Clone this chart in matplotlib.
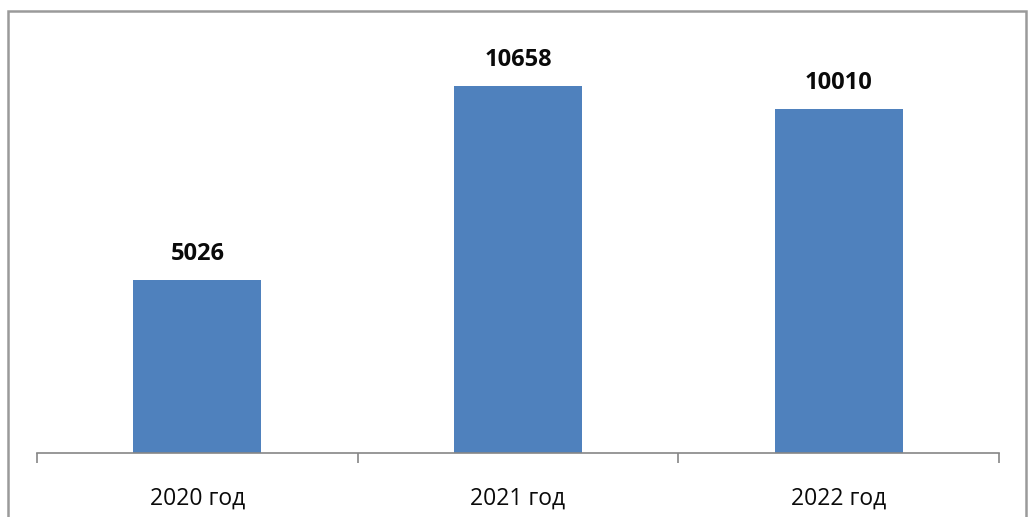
import matplotlib.pyplot as plt
from matplotlib.patches import Rectangle

years = ["2020 год", "2021 год", "2022 год"]
values = [5026, 10658, 10010]

plt.rcParams['font.family'] = ['Open Sans', 'DejaVu Sans']

fig = plt.figure(figsize=(10.28, 5.17), dpi=100)
ax = fig.add_axes([0.036, 0.1238, 0.9358, 0.7988])

x = range(len(years))
bars = ax.bar(x, values, width=0.40, color="#4F81BD")
for b, v in zip(bars, values):
    ax.annotate(str(v), (b.get_x() + b.get_width() / 2, v), xytext=(0, 10),
                textcoords="offset points", ha="center", va="bottom",
                fontsize=17, fontweight="bold", color="#0a0a0a")

ax.set_xlim(-0.5, len(years) - 0.5)
ax.set_ylim(0, 12000)
ax.set_xticks(list(x))
ax.set_xticklabels(years, fontsize=16.5, color="#0a0a0a")
ax.tick_params(axis="x", which="major", length=0, pad=24)
ax.set_xticks([i - 0.5 for i in range(len(years) + 1)], minor=True)
ax.tick_params(axis="x", which="minor", length=7, width=1.2, color="#868686")
ax.set_yticks([])
for s in ["top", "right", "left"]:
    ax.spines[s].set_visible(False)
ax.spines["bottom"].set_color("#868686")
ax.spines["bottom"].set_linewidth(1.2)

# frame around chart
fig.patches.append(Rectangle((8 / 1028, -0.05), 1018 / 1028, 1.05 - 11 / 517,
                             transform=fig.transFigure, fill=False,
                             edgecolor="#9a9a9a", linewidth=1.8, clip_on=False))

fig.savefig("out.png", dpi=100)
